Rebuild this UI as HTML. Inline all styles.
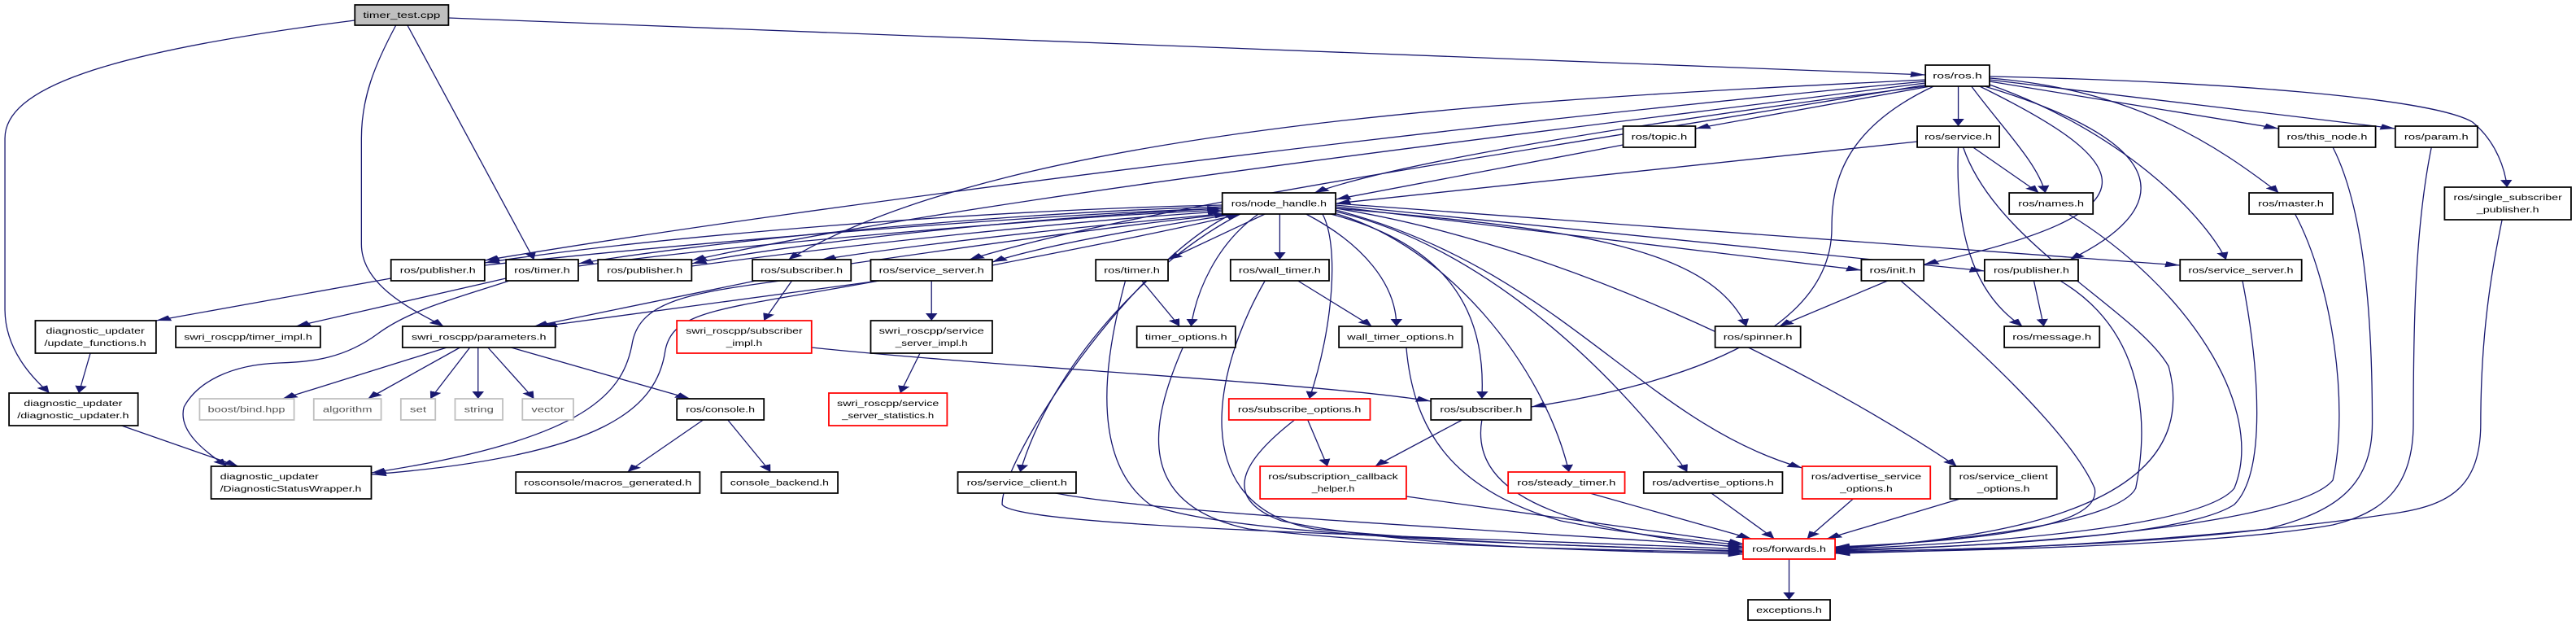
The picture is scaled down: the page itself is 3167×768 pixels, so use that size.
<!DOCTYPE html>
<html><head><meta charset="utf-8"><style>
html,body{margin:0;padding:0;background:#fff;}
svg{display:block}
text{font-family:"Liberation Sans",sans-serif;font-size:10px;fill:#000;}
.e{fill:none;stroke:#191970;stroke-width:1.3;vector-effect:non-scaling-stroke;marker-end:url(#a)}
.n rect{fill:#fff;stroke:#000;stroke-width:1.8;vector-effect:non-scaling-stroke}
.r rect{stroke:#ff0000}
.g rect{stroke:#bfbfbf}
.g text{fill:#555}
</style></head><body>
<svg width="3167" height="768" viewBox="0 0 1568 768" preserveAspectRatio="none" xmlns="http://www.w3.org/2000/svg">
<defs><marker id="a" viewBox="0 0 10 10" refX="10" refY="5" markerWidth="9" markerHeight="9" markerUnits="userSpaceOnUse" orient="auto"><path d="M0,1 L10,5 L0,9 z" fill="#191970"/></marker></defs>
<g>
<path class="e" d="M273 22 L1172 92"/>
<path class="e" d="M216 25 C60 65 3 110 3 170 L3 380 C3 430 20 465 30 483"/>
<path class="e" d="M241 31 C228 80 220 120 220 170 L220 300 C220 350 250 380 270 401"/>
<path class="e" d="M248 31 L325 319"/>
<path class="e" d="M1172 100 C900 150 500 250 295 320"/>
<path class="e" d="M1172 102 C950 160 600 240 421 320"/>
<path class="e" d="M1173 104 C950 180 700 250 590 319"/>
<path class="e" d="M1172 98 C950 120 620 150 480 319"/>
<path class="e" d="M1172 106 C1000 150 850 200 800 237"/>
<path class="e" d="M1175 106 L1032 158"/>
<path class="e" d="M1192 106 L1192 155"/>
<path class="e" d="M1200 106 C1220 160 1240 200 1245 237"/>
<path class="e" d="M1205 106 C1300 200 1320 260 1171 325"/>
<path class="e" d="M1208 106 C1330 180 1320 260 1260 319"/>
<path class="e" d="M1211 104 C1290 160 1340 260 1355 319"/>
<path class="e" d="M1211 96 C1300 110 1350 180 1387 237"/>
<path class="e" d="M1211 100 L1387 158"/>
<path class="e" d="M1211 98 L1458 158"/>
<path class="e" d="M1211 94 C1350 100 1480 120 1505 150 C1520 175 1525 210 1526 230"/>
<path class="e" d="M1177 106 C1120 160 1115 230 1115 280 C1115 380 1060 460 932 500"/>
<path class="e" d="M744 252 C600 258 400 290 295 323"/>
<path class="e" d="M295 326 C450 292 650 262 744 256"/>
<path class="e" d="M744 254 C600 262 420 300 352 324"/>
<path class="e" d="M352 327 C450 300 650 266 744 258"/>
<path class="e" d="M744 256 C620 268 480 300 421 324"/>
<path class="e" d="M421 327 C520 300 660 270 744 260"/>
<path class="e" d="M748 262 C650 280 560 300 500 319"/>
<path class="e" d="M518 324 C600 300 690 275 748 263"/>
<path class="e" d="M752 263 C680 285 630 305 604 322"/>
<path class="e" d="M604 326 C670 300 720 280 755 263"/>
<path class="e" d="M770 263 L711 319"/>
<path class="e" d="M779 263 L779 319"/>
<path class="e" d="M766 263 C740 300 728 360 725 401"/>
<path class="e" d="M795 263 C830 300 850 350 850 401"/>
<path class="e" d="M755 263 C700 320 640 450 621 580"/>
<path class="e" d="M805 263 C815 300 812 400 797 490"/>
<path class="e" d="M810 263 C880 300 905 380 902 490"/>
<path class="e" d="M812 262 C880 300 940 450 955 580"/>
<path class="e" d="M813 260 C900 300 980 450 1027 580"/>
<path class="e" d="M813 258 C950 330 1000 520 1097 575"/>
<path class="e" d="M813 256 C950 300 1100 450 1191 573"/>
<path class="e" d="M813 256 C950 280 1040 300 1063 401"/>
<path class="e" d="M813 254 L1133 332"/>
<path class="e" d="M813 252 L1208 333"/>
<path class="e" d="M813 250 L1327 326"/>
<path class="e" d="M750 263 C690 320 610 560 610 620 C620 650 900 660 1061 675"/>
<path class="e" d="M238 342 L95 394"/>
<path class="e" d="M308 342 L180 401"/>
<path class="e" d="M310 345 C280 365 250 380 230 410 C210 440 190 445 170 446 C140 448 120 470 112 500 C108 530 125 555 138 573"/>
<path class="e" d="M460 345 L325 401"/>
<path class="e" d="M535 345 L330 401"/>
<path class="e" d="M482 345 L465 394"/>
<path class="e" d="M475 345 C420 360 390 370 385 420 C380 480 360 540 226 581"/>
<path class="e" d="M535 345 C440 380 410 380 405 430 C400 500 370 560 226 583"/>
<path class="e" d="M567 345 L567 394"/>
<path class="e" d="M560 434 L548 483"/>
<path class="e" d="M272 427 L172 490"/>
<path class="e" d="M280 427 L224 490"/>
<path class="e" d="M286 427 L262 490"/>
<path class="e" d="M291 427 L291 490"/>
<path class="e" d="M297 427 L325 490"/>
<path class="e" d="M311 427 L420 490"/>
<path class="e" d="M55 434 L48 483"/>
<path class="e" d="M74 523 L145 573"/>
<path class="e" d="M428 516 L382 580"/>
<path class="e" d="M443 516 L469 580"/>
<path class="e" d="M494 427 C600 450 800 470 871 493"/>
<path class="e" d="M695 345 L718 401"/>
<path class="e" d="M685 345 C675 420 660 560 700 620 C750 660 950 670 1061 677"/>
<path class="e" d="M790 345 L835 401"/>
<path class="e" d="M770 345 C740 450 720 620 800 650 C900 670 1000 672 1061 678"/>
<path class="e" d="M720 427 C700 520 690 620 760 650 C850 670 950 675 1061 679"/>
<path class="e" d="M856 427 C860 520 880 600 950 640 C1000 660 1040 665 1061 670"/>
<path class="e" d="M640 605 C700 630 900 650 1061 672"/>
<path class="e" d="M796 516 L808 573"/>
<path class="e" d="M788 516 C760 560 740 610 780 640 C850 670 950 676 1061 681"/>
<path class="e" d="M890 516 L837 573"/>
<path class="e" d="M902 516 C895 600 940 650 1061 673"/>
<path class="e" d="M856 610 L1061 668"/>
<path class="e" d="M966 605 L1066 662"/>
<path class="e" d="M1041 605 L1080 662"/>
<path class="e" d="M1128 613 L1100 662"/>
<path class="e" d="M1193 613 L1112 662"/>
<path class="e" d="M1089 687 L1089 737"/>
<path class="e" d="M1149 345 L1083 401"/>
<path class="e" d="M1157 345 C1200 420 1260 530 1275 600 C1280 650 1200 665 1117 672"/>
<path class="e" d="M1238 345 L1244 401"/>
<path class="e" d="M1254 345 C1300 400 1310 500 1300 600 C1290 640 1200 665 1117 673"/>
<path class="e" d="M1192 181 C1190 280 1200 360 1231 401"/>
<path class="e" d="M1201 181 L1241 237"/>
<path class="e" d="M1167 174 L813 250"/>
<path class="e" d="M1195 181 C1215 300 1300 380 1320 450 C1340 600 1250 660 1117 674"/>
<path class="e" d="M988 178 L813 245"/>
<path class="e" d="M1259 263 C1330 350 1380 500 1360 600 C1340 650 1200 668 1117 675"/>
<path class="e" d="M1365 345 C1375 450 1380 580 1360 620 C1330 660 1200 672 1117 676"/>
<path class="e" d="M1397 263 C1420 350 1430 500 1420 590 C1400 640 1250 670 1117 677"/>
<path class="e" d="M1420 181 C1440 260 1444 400 1444 520 C1444 600 1420 630 1380 650 C1300 670 1200 675 1117 678"/>
<path class="e" d="M1480 181 C1470 280 1469 400 1469 520 C1469 600 1450 630 1420 645 C1350 670 1200 677 1117 679"/>
<path class="e" d="M1523 270 C1518 320 1510 400 1510 520 C1510 600 1490 620 1460 630 C1380 655 1250 675 1117 680"/>
</g>
<g class="n"><rect x="216" y="6" width="57" height="25" style="fill:#bfbfbf"/><text x="244.5" y="22" text-anchor="middle" textLength="47" lengthAdjust="spacingAndGlyphs">timer_test.cpp</text></g>
<g class="n"><rect x="1172" y="80" width="39" height="26"/><text x="1191.5" y="96.5" text-anchor="middle" textLength="30" lengthAdjust="spacingAndGlyphs">ros/ros.h</text></g>
<g class="n"><rect x="988" y="155" width="44" height="26"/><text x="1010" y="171.5" text-anchor="middle" textLength="34" lengthAdjust="spacingAndGlyphs">ros/topic.h</text></g>
<g class="n"><rect x="1167" y="155" width="50" height="26"/><text x="1192" y="171.5" text-anchor="middle" textLength="41" lengthAdjust="spacingAndGlyphs">ros/service.h</text></g>
<g class="n"><rect x="1387" y="155" width="59" height="26"/><text x="1416.5" y="171.5" text-anchor="middle" textLength="49" lengthAdjust="spacingAndGlyphs">ros/this_node.h</text></g>
<g class="n"><rect x="1458" y="155" width="50" height="26"/><text x="1483" y="171.5" text-anchor="middle" textLength="39" lengthAdjust="spacingAndGlyphs">ros/param.h</text></g>
<g class="n"><rect x="744" y="237" width="69" height="26"/><text x="778.5" y="253.5" text-anchor="middle" textLength="58" lengthAdjust="spacingAndGlyphs">ros/node_handle.h</text></g>
<g class="n"><rect x="1223" y="237" width="51" height="26"/><text x="1248.5" y="253.5" text-anchor="middle" textLength="40" lengthAdjust="spacingAndGlyphs">ros/names.h</text></g>
<g class="n"><rect x="1369" y="237" width="51" height="26"/><text x="1394.5" y="253.5" text-anchor="middle" textLength="40" lengthAdjust="spacingAndGlyphs">ros/master.h</text></g>
<g class="n"><rect x="1488" y="230" width="77" height="40"/><text x="1526.5" y="246" text-anchor="middle" textLength="66" lengthAdjust="spacingAndGlyphs">ros/single_subscriber</text><text x="1526.5" y="261" text-anchor="middle" textLength="38" lengthAdjust="spacingAndGlyphs">_publisher.h</text></g>
<g class="n"><rect x="238" y="319" width="57" height="26"/><text x="266.5" y="335.5" text-anchor="middle" textLength="46" lengthAdjust="spacingAndGlyphs">ros/publisher.h</text></g>
<g class="n"><rect x="308" y="319" width="44" height="26"/><text x="330" y="335.5" text-anchor="middle" textLength="34" lengthAdjust="spacingAndGlyphs">ros/timer.h</text></g>
<g class="n"><rect x="364" y="319" width="57" height="26"/><text x="392.5" y="335.5" text-anchor="middle" textLength="46" lengthAdjust="spacingAndGlyphs">ros/publisher.h</text></g>
<g class="n"><rect x="458" y="319" width="60" height="26"/><text x="488" y="335.5" text-anchor="middle" textLength="50" lengthAdjust="spacingAndGlyphs">ros/subscriber.h</text></g>
<g class="n"><rect x="530" y="319" width="74" height="26"/><text x="567" y="335.5" text-anchor="middle" textLength="64" lengthAdjust="spacingAndGlyphs">ros/service_server.h</text></g>
<g class="n"><rect x="667" y="319" width="44" height="26"/><text x="689" y="335.5" text-anchor="middle" textLength="34" lengthAdjust="spacingAndGlyphs">ros/timer.h</text></g>
<g class="n"><rect x="749" y="319" width="60" height="26"/><text x="779" y="335.5" text-anchor="middle" textLength="50" lengthAdjust="spacingAndGlyphs">ros/wall_timer.h</text></g>
<g class="n"><rect x="1133" y="319" width="38" height="26"/><text x="1152" y="335.5" text-anchor="middle" textLength="28" lengthAdjust="spacingAndGlyphs">ros/init.h</text></g>
<g class="n"><rect x="1208" y="319" width="57" height="26"/><text x="1236.5" y="335.5" text-anchor="middle" textLength="46" lengthAdjust="spacingAndGlyphs">ros/publisher.h</text></g>
<g class="n"><rect x="1327" y="319" width="74" height="26"/><text x="1364" y="335.5" text-anchor="middle" textLength="64" lengthAdjust="spacingAndGlyphs">ros/service_server.h</text></g>
<g class="n"><rect x="21.5" y="394" width="73.5" height="40"/><text x="58" y="410" text-anchor="middle" textLength="60" lengthAdjust="spacingAndGlyphs">diagnostic_updater</text><text x="58" y="425" text-anchor="middle" textLength="62" lengthAdjust="spacingAndGlyphs">/update_functions.h</text></g>
<g class="n"><rect x="107" y="401" width="88" height="26"/><text x="151" y="417.5" text-anchor="middle" textLength="78" lengthAdjust="spacingAndGlyphs">swri_roscpp/timer_impl.h</text></g>
<g class="n"><rect x="245" y="401" width="93" height="26"/><text x="291.5" y="417.5" text-anchor="middle" textLength="82" lengthAdjust="spacingAndGlyphs">swri_roscpp/parameters.h</text></g>
<g class="n r"><rect x="412" y="394" width="82" height="40"/><text x="453" y="410" text-anchor="middle" textLength="71" lengthAdjust="spacingAndGlyphs">swri_roscpp/subscriber</text><text x="453" y="425" text-anchor="middle" textLength="22" lengthAdjust="spacingAndGlyphs">_impl.h</text></g>
<g class="n"><rect x="530" y="394" width="74" height="40"/><text x="567" y="410" text-anchor="middle" textLength="64" lengthAdjust="spacingAndGlyphs">swri_roscpp/service</text><text x="567" y="425" text-anchor="middle" textLength="44" lengthAdjust="spacingAndGlyphs">_server_impl.h</text></g>
<g class="n"><rect x="692" y="401" width="60" height="26"/><text x="722" y="417.5" text-anchor="middle" textLength="50" lengthAdjust="spacingAndGlyphs">timer_options.h</text></g>
<g class="n"><rect x="815" y="401" width="75" height="26"/><text x="852.5" y="417.5" text-anchor="middle" textLength="65" lengthAdjust="spacingAndGlyphs">wall_timer_options.h</text></g>
<g class="n"><rect x="1044" y="401" width="52" height="26"/><text x="1070" y="417.5" text-anchor="middle" textLength="42" lengthAdjust="spacingAndGlyphs">ros/spinner.h</text></g>
<g class="n"><rect x="1220" y="401" width="58" height="26"/><text x="1249" y="417.5" text-anchor="middle" textLength="48" lengthAdjust="spacingAndGlyphs">ros/message.h</text></g>
<g class="n"><rect x="5.5" y="483" width="78.5" height="40"/><text x="44.5" y="499" text-anchor="middle" textLength="60" lengthAdjust="spacingAndGlyphs">diagnostic_updater</text><text x="44.5" y="514" text-anchor="middle" textLength="68" lengthAdjust="spacingAndGlyphs">/diagnostic_updater.h</text></g>
<g class="n g"><rect x="121.5" y="490" width="57.5" height="26"/><text x="150" y="506.5" text-anchor="middle" textLength="47" lengthAdjust="spacingAndGlyphs">boost/bind.hpp</text></g>
<g class="n g"><rect x="191" y="490" width="41" height="26"/><text x="211.5" y="506.5" text-anchor="middle" textLength="30" lengthAdjust="spacingAndGlyphs">algorithm</text></g>
<g class="n g"><rect x="244" y="490" width="21" height="26"/><text x="254.5" y="506.5" text-anchor="middle" textLength="10" lengthAdjust="spacingAndGlyphs">set</text></g>
<g class="n g"><rect x="277" y="490" width="29" height="26"/><text x="291.5" y="506.5" text-anchor="middle" textLength="18" lengthAdjust="spacingAndGlyphs">string</text></g>
<g class="n g"><rect x="318" y="490" width="31" height="26"/><text x="333.5" y="506.5" text-anchor="middle" textLength="20" lengthAdjust="spacingAndGlyphs">vector</text></g>
<g class="n"><rect x="412" y="490" width="53" height="26"/><text x="438.5" y="506.5" text-anchor="middle" textLength="42" lengthAdjust="spacingAndGlyphs">ros/console.h</text></g>
<g class="n r"><rect x="504.5" y="483" width="72" height="40"/><text x="540.5" y="499" text-anchor="middle" textLength="62" lengthAdjust="spacingAndGlyphs">swri_roscpp/service</text><text x="540.5" y="514" text-anchor="middle" textLength="56" lengthAdjust="spacingAndGlyphs">_server_statistics.h</text></g>
<g class="n r"><rect x="748" y="490" width="86" height="26"/><text x="791" y="506.5" text-anchor="middle" textLength="75" lengthAdjust="spacingAndGlyphs">ros/subscribe_options.h</text></g>
<g class="n"><rect x="871" y="490" width="61" height="26"/><text x="901.5" y="506.5" text-anchor="middle" textLength="50" lengthAdjust="spacingAndGlyphs">ros/subscriber.h</text></g>
<g class="n"><rect x="128.5" y="573" width="97.5" height="40"/><text x="134" y="589" textLength="60" lengthAdjust="spacingAndGlyphs">diagnostic_updater</text><text x="134" y="604" textLength="86" lengthAdjust="spacingAndGlyphs">/DiagnosticStatusWrapper.h</text></g>
<g class="n"><rect x="314" y="580" width="112" height="26"/><text x="370" y="596.5" text-anchor="middle" textLength="102" lengthAdjust="spacingAndGlyphs">rosconsole/macros_generated.h</text></g>
<g class="n"><rect x="439" y="580" width="71" height="26"/><text x="474.5" y="596.5" text-anchor="middle" textLength="60" lengthAdjust="spacingAndGlyphs">console_backend.h</text></g>
<g class="n"><rect x="583" y="580" width="72" height="26"/><text x="619" y="596.5" text-anchor="middle" textLength="61" lengthAdjust="spacingAndGlyphs">ros/service_client.h</text></g>
<g class="n r"><rect x="767" y="573" width="89" height="40"/><text x="811.5" y="589" text-anchor="middle" textLength="79" lengthAdjust="spacingAndGlyphs">ros/subscription_callback</text><text x="811.5" y="604" text-anchor="middle" textLength="26" lengthAdjust="spacingAndGlyphs">_helper.h</text></g>
<g class="n r"><rect x="918" y="580" width="71" height="26"/><text x="953.5" y="596.5" text-anchor="middle" textLength="60" lengthAdjust="spacingAndGlyphs">ros/steady_timer.h</text></g>
<g class="n"><rect x="1000.5" y="580" width="84.5" height="26"/><text x="1042.7" y="596.5" text-anchor="middle" textLength="74" lengthAdjust="spacingAndGlyphs">ros/advertise_options.h</text></g>
<g class="n r"><rect x="1097" y="573" width="78" height="40"/><text x="1136" y="589" text-anchor="middle" textLength="67" lengthAdjust="spacingAndGlyphs">ros/advertise_service</text><text x="1136" y="604" text-anchor="middle" textLength="32" lengthAdjust="spacingAndGlyphs">_options.h</text></g>
<g class="n"><rect x="1187" y="573" width="65" height="40"/><text x="1219.5" y="589" text-anchor="middle" textLength="54" lengthAdjust="spacingAndGlyphs">ros/service_client</text><text x="1219.5" y="604" text-anchor="middle" textLength="32" lengthAdjust="spacingAndGlyphs">_options.h</text></g>
<g class="n r"><rect x="1061" y="662" width="56" height="25"/><text x="1089" y="678" text-anchor="middle" textLength="45" lengthAdjust="spacingAndGlyphs">ros/forwards.h</text></g>
<g class="n"><rect x="1064" y="737" width="50" height="25"/><text x="1089" y="753" text-anchor="middle" textLength="40" lengthAdjust="spacingAndGlyphs">exceptions.h</text></g>
</svg>
</body></html>
